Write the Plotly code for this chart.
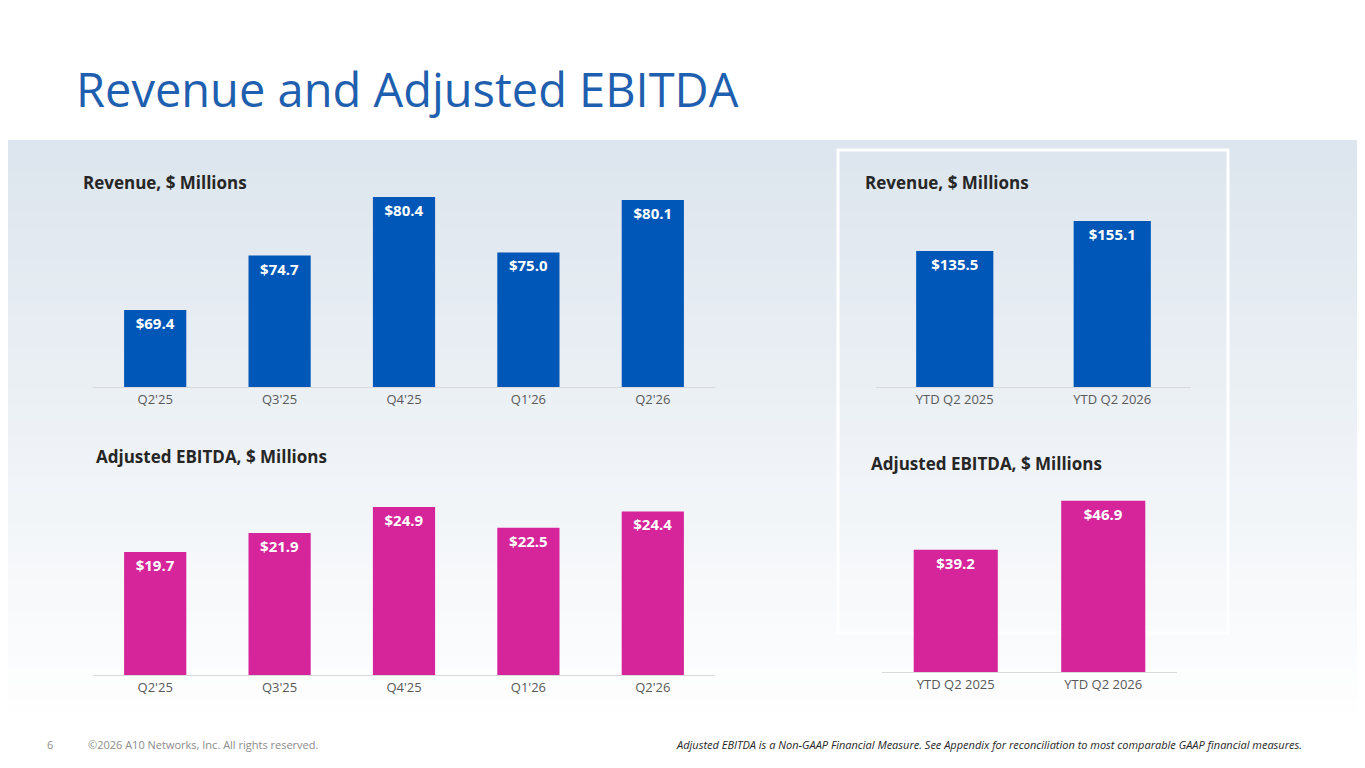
import plotly.graph_objects as go

W, H = 1365, 768

quarters = ["Q2'25", "Q3'25", "Q4'25", "Q1'26", "Q2'26"]
revenue_q = [69.4, 74.7, 80.4, 75.0, 80.1]
ebitda_q = [19.7, 21.9, 24.9, 22.5, 24.4]
ytd = ["YTD Q2 2025", "YTD Q2 2026"]
revenue_ytd = [135.5, 155.1]
ebitda_ytd = [39.2, 46.9]

BLUE = "#0057B8"
MAGENTA = "#D6249A"
FONT = "Open Sans"


def px_x(x):
    return x / W


def px_y(y):
    return 1 - y / H


fig = go.Figure()

# panel spec: (x categories, values, colour, x-domain px, y-domain px, y-range, bargap)
panels = [
    (quarters, revenue_q, BLUE, (85, 707), (379, 169), (61.9, 82.35), 0.5),
    (ytd, revenue_ytd, BLUE, (868, 1183), (379, 169), (46.6, 183.9), 0.51),
    (quarters, ebitda_q, MAGENTA, (85, 707), (667, 480), (5.5, 27.1), 0.5),
    (ytd, ebitda_ytd, MAGENTA, (874, 1169), (664, 480), (20.0, 48.9), 0.43),
]

layout_axes = {}
for i, (cats, vals, col, xd, yd, yr, gap) in enumerate(panels, start=1):
    xa = "x" if i == 1 else f"x{i}"
    ya = "y" if i == 1 else f"y{i}"
    fig.add_trace(
        go.Bar(
            x=cats,
            y=vals,
            marker=dict(color=col, line=dict(width=0)),
            width=1 - gap,
            text=[f"${v:.1f}" for v in vals],
            textposition="inside",
            insidetextanchor="end",
            textfont=dict(family=FONT, size=15, color="white", weight="bold"),
            constraintext="none",
            xaxis=xa,
            yaxis=ya,
            showlegend=False,
            hoverinfo="skip",
        )
    )
    layout_axes["xaxis" if i == 1 else f"xaxis{i}"] = dict(
        domain=[px_x(xd[0]), px_x(xd[1])],
        anchor=ya,
        type="category",
        showline=True,
        linecolor="#d9d9d9",
        linewidth=1,
        ticks="",
        tickfont=dict(family=FONT, size=13, color="#595959"),
        showgrid=False,
        fixedrange=True,
    )
    layout_axes["yaxis" if i == 1 else f"yaxis{i}"] = dict(
        domain=[px_y(yd[0]), px_y(yd[1])],
        anchor=xa,
        range=list(yr),
        visible=False,
        fixedrange=True,
    )

# background: white header, then a soft gradient band
shapes = []
n = 40
top, bottom = 132, 720
c0 = (221, 229, 238)
for k in range(n):
    t = k / (n - 1)
    r = int(c0[0] + (255 - c0[0]) * t)
    g = int(c0[1] + (255 - c0[1]) * t)
    b = int(c0[2] + (255 - c0[2]) * t)
    y0 = top + (bottom - top) * k / n
    y1 = top + (bottom - top) * (k + 1) / n + 1
    shapes.append(dict(type="rect", xref="paper", yref="paper", layer="below",
                       x0=0, x1=1, y0=px_y(y1), y1=px_y(y0),
                       line=dict(width=0), fillcolor=f"rgb({r},{g},{b})"))
shapes.append(dict(type="rect", xref="paper", yref="paper", layer="below",
                   x0=px_x(830), x1=px_x(1220), y0=px_y(625), y1=px_y(142),
                   line=dict(color="white", width=3), fillcolor="rgba(0,0,0,0)"))

annotations = [
    dict(text="Revenue and Adjusted EBITDA", x=px_x(66), y=px_y(81), xanchor="left",
         yanchor="middle", font=dict(family=FONT, size=47, color="#1F5FAF")),
    dict(text="<b>Revenue, $ Millions</b>", x=px_x(73), y=px_y(174), xanchor="left",
         yanchor="middle", font=dict(family=FONT, size=17, color="#262626")),
    dict(text="<b>Revenue, $ Millions</b>", x=px_x(855), y=px_y(174), xanchor="left",
         yanchor="middle", font=dict(family=FONT, size=17, color="#262626")),
    dict(text="<b>Adjusted EBITDA, $ Millions</b>", x=px_x(86), y=px_y(448), xanchor="left",
         yanchor="middle", font=dict(family=FONT, size=17, color="#262626")),
    dict(text="<b>Adjusted EBITDA, $ Millions</b>", x=px_x(861), y=px_y(455), xanchor="left",
         yanchor="middle", font=dict(family=FONT, size=17, color="#262626")),
    dict(text="6", x=px_x(37), y=px_y(736), xanchor="left", yanchor="middle",
         font=dict(family=FONT, size=11, color="#8c8c8c")),
    dict(text="©2026 A10 Networks, Inc. All rights reserved.", x=px_x(78), y=px_y(736),
         xanchor="left", yanchor="middle", font=dict(family=FONT, size=11, color="#8c8c8c")),
    dict(text="<i>Adjusted EBITDA is a Non-GAAP Financial Measure. See Appendix for reconciliation to most comparable GAAP financial measures.</i>",
         x=px_x(1296), y=px_y(736), xanchor="right", yanchor="middle",
         font=dict(family=FONT, size=11, color="#262626")),
]
for a in annotations:
    a.update(xref="paper", yref="paper", showarrow=False)

fig.update_layout(
    width=W,
    height=H,
    margin=dict(l=0, r=0, t=0, b=0),
    paper_bgcolor="white",
    plot_bgcolor="rgba(0,0,0,0)",
    shapes=shapes,
    annotations=annotations,
    **layout_axes,
)

fig.write_html("out.html", config={"displayModeBar": False})
